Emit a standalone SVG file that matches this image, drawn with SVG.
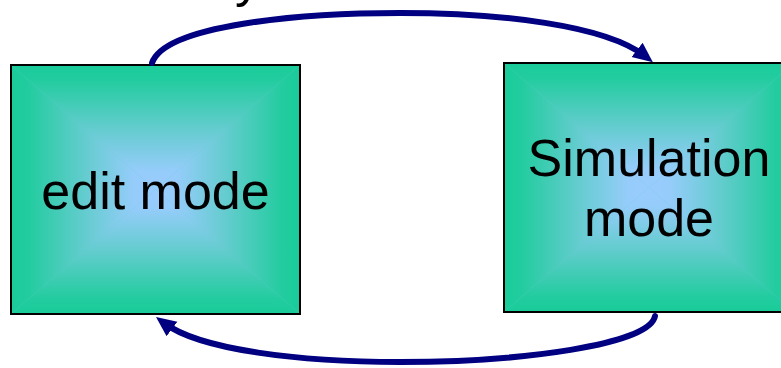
<svg xmlns="http://www.w3.org/2000/svg" width="781" height="368" viewBox="0 0 781 368">
  <style>
    .label { font-family: "Liberation Sans", Arial, sans-serif; font-size: 52px; fill: #000; text-anchor: middle; }
    .border { fill: none; stroke: #000; stroke-width: 2; }
    .base { fill: #5ccccc; }
    .link { fill: none; stroke: #000080; stroke-width: 6; stroke-linecap: round; }
  </style>
  <defs>
    <!-- "from centre" fill built from four triangles, each shading edge to centre -->
    <linearGradient id="gTop" x1="0" y1="0" x2="0" y2="1">
      <stop offset="0" stop-color="#19cc99"/>
      <stop offset="0.12" stop-color="#22cc9f"/>
      <stop offset="0.5" stop-color="#62cccd"/>
      <stop offset="0.85" stop-color="#95ccfa"/>
      <stop offset="1" stop-color="#99ccff"/>
    </linearGradient>
    <linearGradient id="gBottom" href="#gTop" x1="0" y1="1" x2="0" y2="0"/>
    <linearGradient id="gLeft" href="#gTop" x1="0" y1="0" x2="1" y2="0"/>
    <linearGradient id="gRight" href="#gTop" x1="1" y1="0" x2="0" y2="0"/>
    <marker id="head" markerUnits="userSpaceOnUse" markerWidth="22" markerHeight="20" refX="10" refY="9" orient="auto">
      <path d="M0,0 L20,9 L0,18 Z" fill="#000080"/>
    </marker>
  </defs>

  <rect width="781" height="368" fill="#fff"/>

  <!-- partly visible heading above the diagram -->
  <text class="label" x="248" y="-4">y</text>

  <g id="edit-mode">
    <rect class="base" x="11" y="65" width="289" height="249"/>
    <polygon points="11,65 300,65 155.5,189.5" fill="url(#gTop)"/>
    <polygon points="11,314 300,314 155.5,189.5" fill="url(#gBottom)"/>
    <polygon points="11,65 11,314 155.5,189.5" fill="url(#gLeft)"/>
    <polygon points="300,65 300,314 155.5,189.5" fill="url(#gRight)"/>
    <rect class="border" x="11" y="65" width="289" height="249"/>
    <text class="label" x="155.5" y="209">edit mode</text>
  </g>

  <g id="simulation-mode">
    <rect class="base" x="504" y="63" width="290" height="249"/>
    <polygon points="504,63 794,63 649,187.5" fill="url(#gTop)"/>
    <polygon points="504,312 794,312 649,187.5" fill="url(#gBottom)"/>
    <polygon points="504,63 504,312 649,187.5" fill="url(#gLeft)"/>
    <polygon points="794,63 794,312 649,187.5" fill="url(#gRight)"/>
    <rect class="border" x="504" y="63" width="290" height="249"/>
    <text class="label" x="649" y="176">Simulation</text>
    <text class="label" x="649" y="236">mode</text>
  </g>

  <g id="connectors">
    <path class="link" d="M152,63 C165,25 300,13 400,13 C500,13 605,25 645,56" marker-end="url(#head)"/>
    <path class="link" d="M655,316 C650,345 520,362 400,362 C300,362 200,350 164,323" marker-end="url(#head)"/>
  </g>
</svg>
